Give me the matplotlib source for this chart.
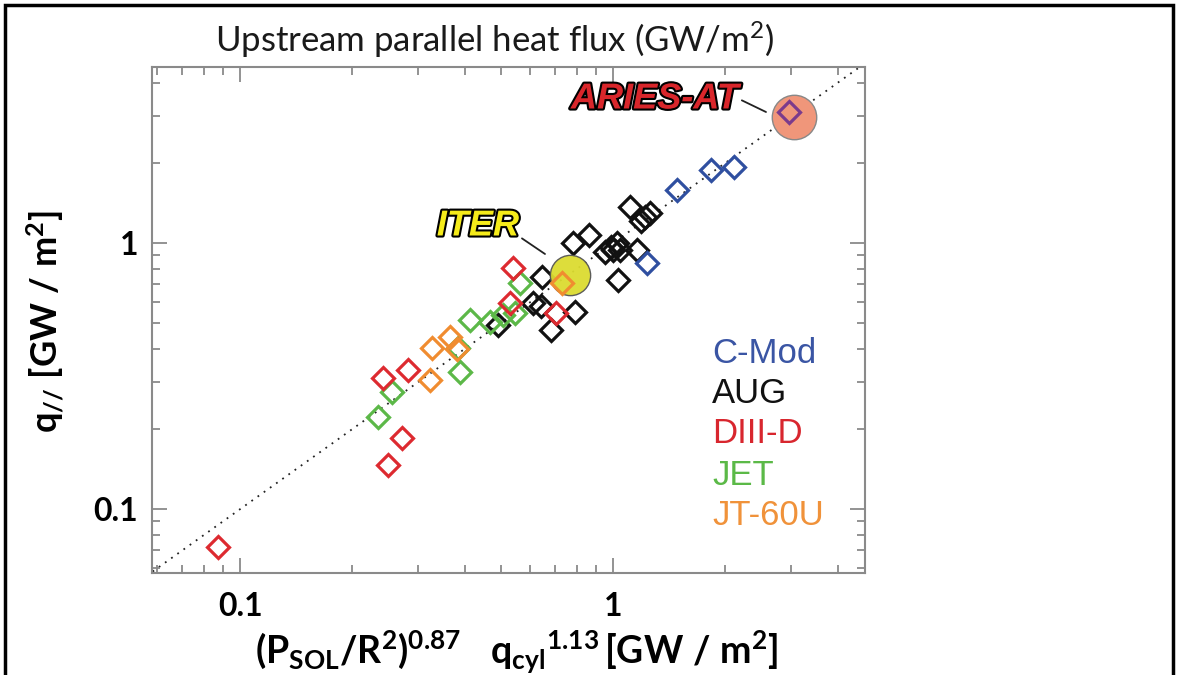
import matplotlib
matplotlib.use("Agg")
import matplotlib.pyplot as plt
import matplotlib.patheffects as pe
from matplotlib.patches import Rectangle
from matplotlib.ticker import LogLocator, NullFormatter, FixedLocator, FixedFormatter

plt.rcParams['mathtext.fontset'] = 'custom'
plt.rcParams['mathtext.rm'] = 'Lato'
plt.rcParams['mathtext.bf'] = 'Lato:bold'
plt.rcParams['mathtext.it'] = 'Lato:italic'

# ---- data ----
cmod_x = [1.23, 1.48, 1.83, 2.11]
cmod_y = [0.84, 1.58, 1.88, 1.93]

aug_x = [1.11, 1.22, 1.26, 1.19, 0.86, 0.78, 0.95, 0.99, 1.025, 1.044, 1.00, 1.16,
         1.03, 0.645, 0.61, 0.64, 0.79, 0.68, 0.49]
aug_y = [1.37, 1.25, 1.30, 1.21, 1.07, 1.00, 0.925, 0.966, 1.00, 0.941, 0.941, 0.94,
         0.726, 0.745, 0.595, 0.58, 0.55, 0.47, 0.49]

diiid_x = [0.087, 0.249, 0.272, 0.242, 0.282, 0.539, 0.529, 0.704]
diiid_y = [0.072, 0.146, 0.185, 0.311, 0.333, 0.805, 0.595, 0.545]

jet_x = [0.234, 0.256, 0.389, 0.384, 0.414, 0.468, 0.507, 0.546, 0.563]
jet_y = [0.222, 0.275, 0.327, 0.403, 0.514, 0.505, 0.536, 0.545, 0.707]

jt60_x = [0.323, 0.327, 0.366, 0.382, 0.730]
jt60_y = [0.305, 0.403, 0.443, 0.400, 0.707]

iter_x, iter_y = 0.767, 0.758
aries_circle_x, aries_circle_y = 3.06, 2.98
aries_x, aries_y = 2.96, 3.11

fit_line = [0.05, 6.0]

legend_names = ["C-Mod", "AUG", "DIII-D", "JET", "JT-60U"]
legend_colors = ["#3a55a4", "#111111", "#d8262e", "#5bb947", "#f0923a"]

xlim = (0.058, 4.74)
ylim = (0.0575, 4.59)

# ---- figure ----
fig = plt.figure(figsize=(11.8, 6.75), dpi=100)
ax = fig.add_axes([152/1180, 1-573/675, (865-152)/1180, (573-67)/675])
ax.set_xscale('log')
ax.set_yscale('log')
ax.set_xlim(*xlim)
ax.set_ylim(*ylim)

ax.plot(fit_line, fit_line, color='#222222', lw=1.3, ls=(0, (1, 3.2)), zorder=1)

mk = dict(marker='D', ls='none', ms=11.5, mew=2.3, mfc='none')
ax.plot(aug_x, aug_y, mec='#111111', zorder=3, **mk)
ax.plot(iter_x, iter_y, marker='o', ms=29, mfc='#dcdc30', mec='#555555', mew=1.0,
        alpha=0.95, ls='none', zorder=4)
ax.plot(jet_x, jet_y, mec='#5cb848', zorder=3, **mk)
ax.plot(diiid_x, diiid_y, mec='#dd2a30', zorder=3, **mk)
ax.plot(jt60_x, jt60_y, mec='#f08c30', zorder=5, **mk)
ax.plot(cmod_x, cmod_y, mec='#2f4fa0', zorder=3, **mk)
ax.plot(aries_circle_x, aries_circle_y, marker='o', ms=32, mfc='#f0967a', mec='#888888',
        mew=1.0, ls='none', zorder=4)
ax.plot(aries_x, aries_y, mec='#7b3a8c', zorder=5, **mk)

# annotations
outline = [pe.withStroke(linewidth=3, foreground='black')]
ax.annotate('ITER', xy=(545, 675-254), xycoords='figure pixels',
            xytext=(478, 675-226), textcoords='figure pixels',
            ha='center', va='center', fontsize=26, fontweight='bold', fontstyle='italic',
            family='Liberation Sans', color='#f5eb1a', path_effects=outline,
            arrowprops=dict(arrowstyle='-', color='#222222', lw=1.3, shrinkA=0, shrinkB=0,
                            relpos=(1.0, 0.2)))
ax.annotate('ARIES-AT', xy=(766, 675-112), xycoords='figure pixels',
            xytext=(655, 675-99), textcoords='figure pixels',
            ha='center', va='center', fontsize=26, fontweight='bold', fontstyle='italic',
            family='Liberation Sans', color='#d9262b', path_effects=outline,
            arrowprops=dict(arrowstyle='-', color='#222222', lw=1.3, shrinkA=0, shrinkB=0,
                            relpos=(1.0, 0.5)))

# legend as colored text
base_y = [363, 403, 443, 485, 525]
for name, col, by in zip(legend_names, legend_colors, base_y):
    fig.text(712/1180, 1-by/675, name, color=col, fontsize=25, family='Liberation Sans',
             ha='left', va='baseline')

# axes styling
spine_col = '#8a8a8a'
for s in ax.spines.values():
    s.set_color(spine_col)
    s.set_linewidth(1.5)
ax.xaxis.set_major_locator(FixedLocator([0.1, 1]))
ax.xaxis.set_major_formatter(FixedFormatter(['0.1', '1']))
ax.yaxis.set_major_locator(FixedLocator([0.1, 1]))
ax.yaxis.set_major_formatter(FixedFormatter(['0.1', '1']))
ax.xaxis.set_minor_locator(LogLocator(base=10, subs=range(2, 10), numticks=20))
ax.yaxis.set_minor_locator(LogLocator(base=10, subs=range(2, 10), numticks=20))
ax.xaxis.set_minor_formatter(NullFormatter())
ax.yaxis.set_minor_formatter(NullFormatter())
ax.tick_params(which='both', direction='in', top=True, right=True, color=spine_col, width=1.3)
ax.tick_params(which='major', length=11, pad=14)
ax.tick_params(which='minor', length=6)
for lab in ax.get_xticklabels() + ax.get_yticklabels():
    lab.set_fontsize(23)
    lab.set_fontweight('bold')
    lab.set_family('Lato')
ax.tick_params(axis='y', pad=10)

# labels
fig.text(517/1180, 1-652/675, r'$\mathbf{(P_{SOL}/R^{2})^{0.87}\ \ \ q_{cyl}{}^{1.13}\,[GW\ /\ m^{2}]}$',
         fontsize=27, ha='center', va='center')
fig.text(45/1180, 1-322/675, r'$\mathbf{q_{//}\ [GW\ /\ m^{2}]}$', fontsize=26,
         ha='center', va='center', rotation=90)
fig.text(495/1180, 1-40/675, r'Upstream parallel heat flux (GW/m$^\mathregular{2}$)',
         fontsize=25, ha='center', va='center', family='Lato', fontweight='normal',
         color='#1a1a1a')

# outer frame
fig.patches.append(Rectangle((5/1180, -0.05), (1173-5)/1180, 1.05 - 5/675,
                             transform=fig.transFigure, fill=False, ec='black', lw=2.5))

fig.savefig('out.png', dpi=100)
